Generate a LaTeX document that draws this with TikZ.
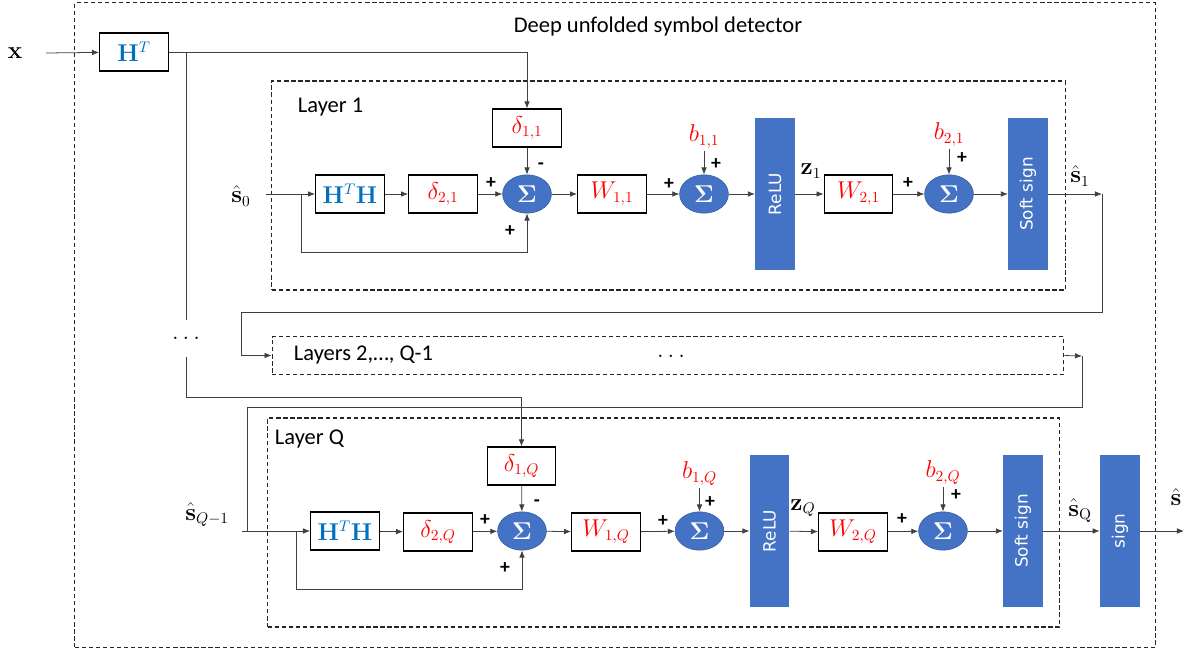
\documentclass[tikz,border=0pt]{standalone}
\usepackage[no-math]{fontspec}
\setmainfont{Carlito}
\newfontfamily\barfont{DejaVu Sans}
\usetikzlibrary{arrows.meta,shapes.geometric,calc}
\definecolor{office}{HTML}{4472C4}
\definecolor{hblue}{HTML}{0070C0}

\begin{document}
\begin{tikzpicture}[x=0.025cm, y=-0.025cm,
  blk/.style={draw, line width=0.8pt, minimum width=1.72cm, minimum height=0.95cm, inner sep=0pt, font=\fontsize{16}{18}\selectfont},
  prm/.style={blk, text=red},
  mat/.style={blk, text=hblue},
  sigma/.style={ellipse, fill=office, draw=office!80!black, minimum width=1.22cm, minimum height=0.96cm, inner sep=0pt, text=white, font=\fontsize{17}{18}\selectfont},
  actbar/.style={fill=office, minimum width=0.99cm, minimum height=3.8cm, inner sep=0pt, text=white, font=\barfont\fontsize{12}{14}\selectfont},
  lyr/.style={draw=black!85, dash pattern=on 3pt off 2pt, line width=0.8pt, inner sep=0pt},
  wire/.style={draw=black!75, line width=0.55pt},
  arr/.style={wire, -{Latex[length=5pt,width=4pt]}},
  pm/.style={font=\fontsize{14}{14}\selectfont\bfseries, inner sep=0pt},
  bias/.style={text=red, anchor=south, inner sep=1.5pt, font=\fontsize{16}{18}\selectfont},
  lbl/.style={font=\fontsize{16}{18}\selectfont}]
\useasboundingbox (0,0) rectangle (1193,650);

% frame and input
\node[lyr, minimum width=27cm, minimum height=16.1cm] (outer) at (615,325) {};
\node[lbl] (title) at (658,27) {Deep unfolded symbol detector};
\node[lbl] (xin) at (15,53) {$\mathbf{x}$};
\coordinate (xs) at (46,53);
\node[mat] (ht) at (134,52) {$\mathbf{H}^T$};
\coordinate (jt) at (186,52);
\draw[arr] (xs) -- (ht);

% layer 1
\node[lyr, minimum width=19.825cm, minimum height=5.225cm] (lay1) at (668.5,185.5) {};
\node[lbl, anchor=west] (lay1lab) at (293,107) {Layer 1};
\node[lbl] (s0) at (241,196) {$\hat{\mathbf{s}}_0$};
\coordinate (s0in) at (266,194);
\coordinate (fb1) at (301,194);
\node[mat] (hh1) at (350,194) {$\mathbf{H}^T\mathbf{H}$};
\node[prm] (d21) at (443,194) {$\delta_{2,1}$};
\node[sigma] (sa1) at (527,194) {$\mathbf{\Sigma}$};
\node[prm] (d11) at (527,128) {$\delta_{1,1}$};
\node[prm] (w11) at (612,194) {$W_{1,1}$};
\node[sigma] (sb1) at (704,194) {$\mathbf{\Sigma}$};
\node[bias] (b11) at (704,151) {$b_{1,1}$};
\node[actbar] (relu1) at (775,194) {\rotatebox{90}{ReLU}};
\node[lbl] (z1) at (811,171) {$\mathbf{z}_1$};
\node[prm] (w21) at (858.5,194) {$W_{2,1}$};
\node[sigma] (sc1) at (949,194) {$\mathbf{\Sigma}$};
\node[bias] (b21) at (949,149) {$b_{2,1}$};
\node[actbar] (soft1) at (1028,194) {\rotatebox{90}{Soft sign}};
\node[lbl] (s1) at (1080,176) {$\hat{\mathbf{s}}_1$};
\coordinate (o1) at (1102,194);
\node[pm] (p1) at (491,183) {+};
\node[pm] (m1) at (541,166) {-};
\node[pm] (p2) at (510,231) {+};
\node[pm] (p3) at (669,184) {+};
\node[pm] (p4) at (716,164) {+};
\node[pm] (p5) at (908,183) {+};
\node[pm] (p6) at (962,158) {+};
\draw[arr] (ht.east) -| (d11.north);
\draw[arr] (s0in) -- (hh1);
\draw[arr] (fb1) -- ++(0,58) -| (sa1.south);
\draw[arr] (hh1) -- (d21);
\draw[arr] (d21) -- (sa1);
\draw[arr] (d11) -- (sa1);
\draw[arr] (sa1) -- (w11);
\draw[arr] (w11) -- (sb1);
\draw[arr] (b11) -- (sb1);
\draw[arr] (sb1) -- (relu1);
\draw[arr] (relu1) -- (w21);
\draw[arr] (w21) -- (sc1);
\draw[arr] (b21) -- (sc1);
\draw[arr] (sc1) -- (soft1);
\draw[arr] (soft1) -- (o1);

% layers 2 .. Q-1
\node[lyr, minimum width=19.79cm, minimum height=0.93cm] (mid) at (668,355.5) {};
\node[lbl, anchor=west] (midlab) at (289,355) {Layers 2,…, Q-1};
\node[lbl] (middots) at (671,356) {$\ldots$};
\node[lbl, minimum height=0.93cm, inner sep=0pt] (vdots) at (186,338.5) {$\ldots$};
\coordinate (o2) at (1082,356);
\draw[arr] (o1) -- ++(0,118) -| ($(mid.west)+(-30,0)$) -- (mid.west);
\draw[arr] (mid.east) -- (o2);
\draw[wire] (jt) -- (vdots.north);

% layer Q
\node[lyr, minimum width=19.775cm, minimum height=5.225cm] (layQ) at (663.5,522.5) {};
\node[lbl, anchor=west] (layQlab) at (270,439) {Layer Q};
\node[lbl] (sq0) at (207,515) {$\hat{\mathbf{s}}_{Q-1}$};
\coordinate (sQin) at (242,531);
\coordinate (jq) at (247,531);
\coordinate (fbQ) at (296,531);
\node[mat] (hhQ) at (345,531) {$\mathbf{H}^T\mathbf{H}$};
\node[prm] (d2Q) at (438,532) {$\delta_{2,Q}$};
\node[sigma] (saQ) at (522,531) {$\mathbf{\Sigma}$};
\node[prm] (d1Q) at (521.5,466) {$\delta_{1,Q}$};
\node[prm] (w1Q) at (606,532) {$W_{1,Q}$};
\node[sigma] (sbQ) at (699.5,531) {$\mathbf{\Sigma}$};
\node[bias] (b1Q) at (699.5,488) {$b_{1,Q}$};
\node[actbar] (reluQ) at (769.5,531) {\rotatebox{90}{ReLU}};
\node[lbl] (zQ) at (803,508) {$\mathbf{z}_Q$};
\node[prm] (w2Q) at (853,532) {$W_{2,Q}$};
\node[sigma] (scQ) at (943,531) {$\mathbf{\Sigma}$};
\node[bias] (b2Q) at (943,487) {$b_{2,Q}$};
\node[actbar] (softQ) at (1023,531) {\rotatebox{90}{Soft sign}};
\node[lbl] (sQ) at (1080,511) {$\hat{\mathbf{s}}_\mathrm{Q}$};
\node[actbar, minimum width=1cm] (sgn) at (1120,531) {\rotatebox{90}{sign}};
\node[lbl] (shat) at (1176,497) {$\hat{\mathbf{s}}$};
\coordinate (sout) at (1184,531);
\node[pm] (q1) at (485,520) {+};
\node[pm] (mq) at (537,503) {-};
\node[pm] (q2) at (505,568) {+};
\node[pm] (q3) at (663,521) {+};
\node[pm] (q4) at (710,502) {+};
\node[pm] (q5) at (902,519) {+};
\node[pm] (q6) at (956,495) {+};
\draw[arr] (vdots.south) -- ++(0,40) -| (d1Q.north);
\draw[wire] (o2) -- ++(0,51) -| (jq);
\draw[arr] (sQin) -- (hhQ);
\draw[arr] (fbQ) -- ++(0,58) -| (saQ.south);
\draw[arr] (hhQ) -- (d2Q);
\draw[arr] (d2Q) -- (saQ);
\draw[arr] (d1Q) -- (saQ);
\draw[arr] (saQ) -- (w1Q);
\draw[arr] (w1Q) -- (sbQ);
\draw[arr] (b1Q) -- (sbQ);
\draw[arr] (sbQ) -- (reluQ);
\draw[arr] (reluQ) -- (w2Q);
\draw[arr] (w2Q) -- (scQ);
\draw[arr] (b2Q) -- (scQ);
\draw[arr] (scQ) -- (softQ);
\draw[arr] (softQ) -- (sgn);
\draw[arr] (sgn) -- (sout);

\end{tikzpicture}
\end{document}
